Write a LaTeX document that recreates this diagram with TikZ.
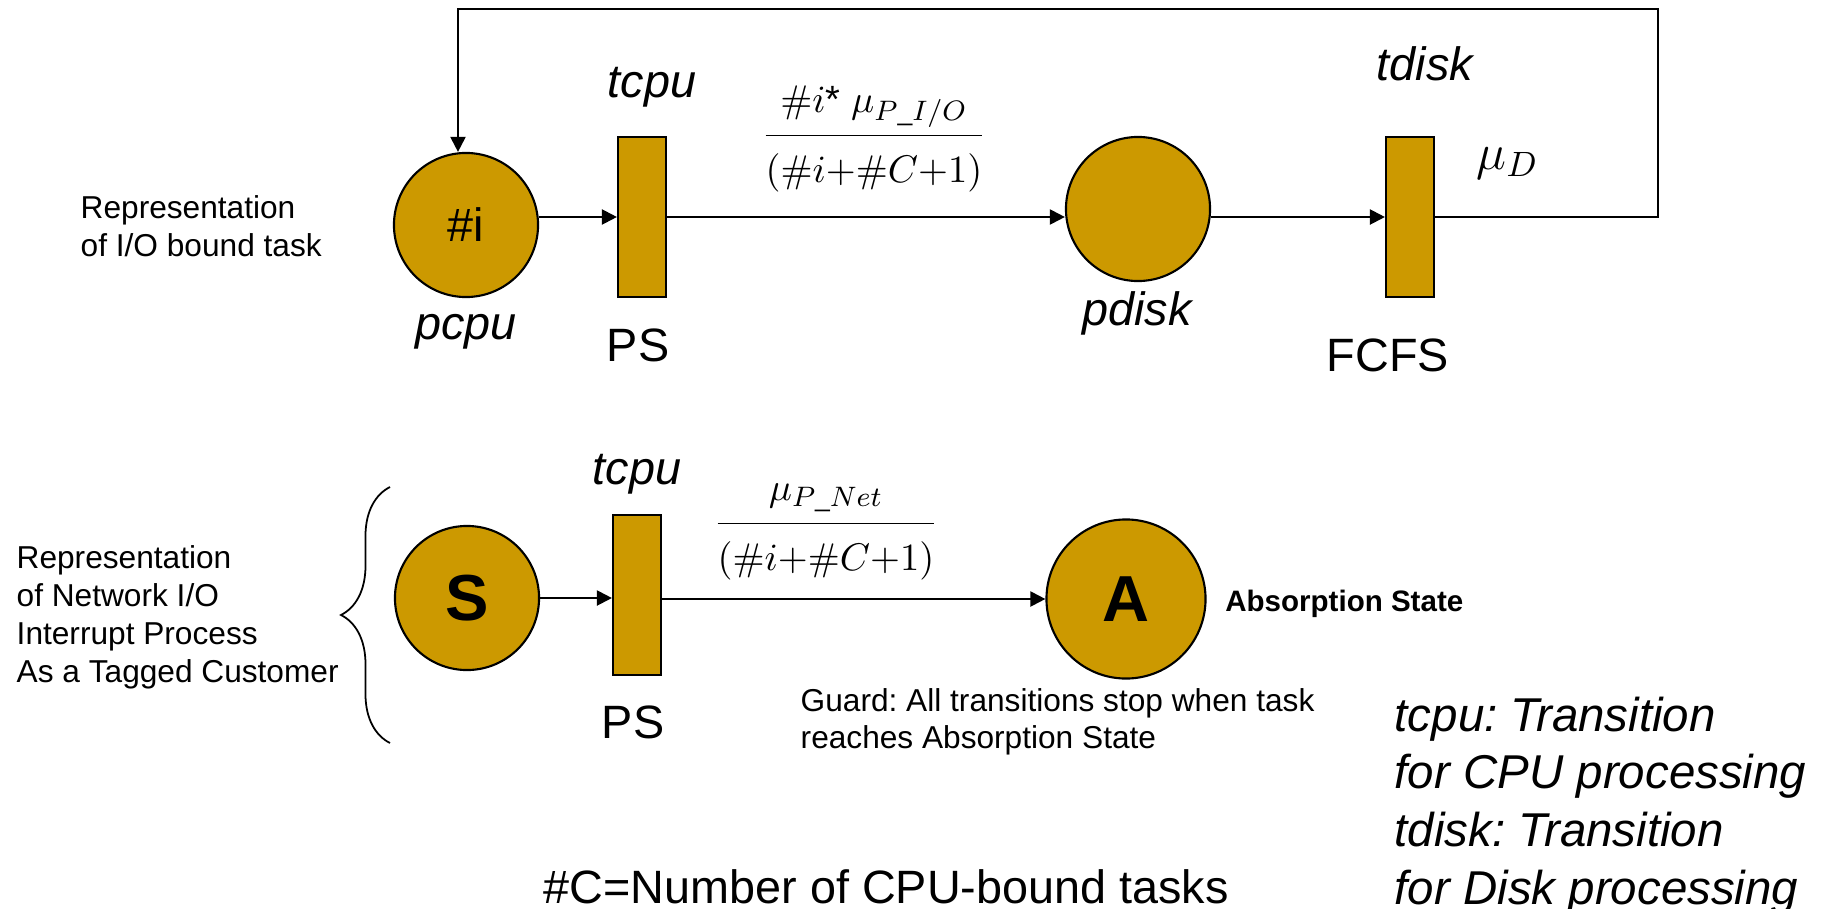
\documentclass[tikz,border=0pt]{standalone}
\usepackage{amsmath}
\usepackage[no-math]{fontspec}
\setmainfont{Liberation Sans}
\usepackage{tikz}
\usetikzlibrary{arrows.meta, calc, positioning, decorations.pathreplacing}
\definecolor{petri}{RGB}{204,153,0}
\tikzstyle{place} = [circle, draw=black, line width=0.6pt, fill=petri, minimum size=1.44cm, inner sep=0pt]
\tikzstyle{trans} = [rectangle, draw=black, line width=0.6pt, fill=petri, minimum width=0.48cm, minimum height=1.6cm, inner sep=0pt]
\tikzstyle{lbl} = [inner sep=0pt, font=\fontsize{13.3}{16}\selectfont]
\tikzstyle{note} = [inner sep=0pt, align=left, font=\fontsize{9}{10.8}\selectfont]
\tikzstyle{rate} = [inner sep=0pt, anchor=base, font=\fontsize{10.8}{12}\selectfont]
\tikzstyle{arrow} = [line width=0.6pt, -{Triangle[width=1.5mm,length=1.5mm]}]
\newcommand{\numstrut}{\rule[-5pt]{0pt}{0pt}}
\newcommand{\denstrut}{\rule{0pt}{11.8pt}}
\frenchspacing

\begin{document}
\begin{tikzpicture}[x=0.01cm, y=-0.01cm]
		\useasboundingbox (0,0) rectangle (1827,909);
		% I/O bound task
		\node (pcpu) [place, font=\fontsize{13.3}{16}\selectfont] at (466,225) {\#i};
		\node (tcpuA) [trans] at (642,217) {};
		\node (pdisk) [place] at (1138,209) {};
		\node (tdisk) [trans] at (1410,217) {};
		\node (pcpuLbl) [lbl, below = 0.16cm of pcpu] {\textit{pcpu}};
		\node (tcpuAlbl) [lbl, above = 0.28cm of tcpuA, xshift=0.1cm] {\textit{tcpu}};
		\node (psA) [lbl, below = 0.30cm of tcpuA, xshift=-0.04cm] {PS};
		\node (pdiskLbl) [lbl, below = 0.09cm of pdisk] {\textit{pdisk}};
		\node (tdiskLbl) [lbl, above = 0.54cm of tdisk, xshift=0.16cm] {\textit{tdisk}};
		\node (fcfs) [lbl, below = 0.40cm of tdisk, xshift=-0.22cm] {FCFS};
		\node (rateIO) [rate] at (874,145) {$\dfrac{\numstrut\#i\text{*}\;\mu_{P\_I/O}}{\denstrut(\#i{+}\#C{+}1)}$};
		\node (muD) [inner sep=0pt, anchor=base west, font=\fontsize{14}{16}\selectfont] at (1476,169) {$\mu_D$};
		\node (ioNote) [note, anchor=north west] at (80,195) {Representation\\of I/O bound task};
		\coordinate (loopTR) at (1658,9);
		\draw [arrow] (pcpu.east |- tcpuA) -- (tcpuA.west);
		\draw [arrow] (tcpuA.east) -- (pdisk.west |- tcpuA);
		\draw [arrow] (pdisk.east |- tdisk) -- (tdisk.west);
		\draw [arrow] (tdisk.east) -| (loopTR) -| ([xshift=-0.08cm]pcpu.north);
		% network I/O interrupt
		\node (S) [place, font=\fontsize{18.5}{20}\selectfont\bfseries] at (467,598) {S};
		\node (tcpuB) [trans] at (637,595) {};
		\node (A) [place, minimum size=1.59cm, font=\fontsize{18.5}{20}\selectfont\bfseries] at (1126,599) {A};
		\node (tcpuBlbl) [lbl, above = 0.19cm of tcpuB] {\textit{tcpu}};
		\node (psB) [lbl, below = 0.29cm of tcpuB, xshift=-0.04cm] {PS};
		\node (rateNet) [rate] at (826,533) {$\dfrac{\numstrut\mu_{P\_Net}}{\denstrut(\#i{+}\#C{+}1)}$};
		\node (absorb) [right = 0.18cm of A, yshift=-0.05cm, inner sep=0pt, font=\fontsize{8.4}{10}\selectfont\bfseries] {Absorption State};
		\node (guard) [note, anchor=north west, font=\fontsize{9}{10.5}\selectfont] at (800,688) {Guard: All transitions stop when task\\reaches Absorption State};
		\node (netNote) [note, anchor=north west] at (16,545) {Representation\\of Network I/O\\Interrupt Process\\As a Tagged Customer};
		\coordinate (braceBot) at (390,743);
		\coordinate (braceTop) at (390,487);
		\draw [decorate, decoration={brace, amplitude=0.49cm}, line width=0.5pt] (braceBot) -- (braceTop);
		\draw [arrow] (S) -- (tcpuB.west |- S);
		\draw [arrow] (tcpuB.east |- A) -- (A.west);
		% legend
		\node (legend) [anchor=north west, inner sep=0pt, align=left, font=\fontsize{13.5}{16.4}\selectfont\itshape] at (1394,696) {tcpu: Transition\\for CPU processing\\tdisk: Transition\\for Disk processing};
		\node (countC) [lbl, anchor=base west] at (543,903) {\#C=Number of CPU-bound tasks};
\end{tikzpicture}
\end{document}
